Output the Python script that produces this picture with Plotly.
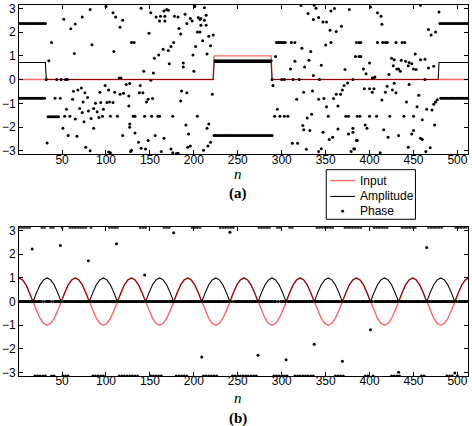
import plotly.graph_objects as go

PI = 3.1416

# ---------------- (a) ----------------
input_a_n = [1, 222, 223, 288, 289, 512]
input_a_v = [0, 0, 1, 1, 0, 0]
amp_a_n = [1, 31, 32, 33, 222, 223, 288, 289, 478, 479, 512]
amp_a_v = [0.72, 0.72, 0.05, 0, 0, 0.72, 0.72, 0, 0, 0.72, 0.72]

# dotted horizontal bands of phase: (first n, last n, step, phase)
phase_a_bands = [
    (1, 31, 2, 2.36), (2, 30, 2, -0.79),
    (223, 289, 2, -2.36), (224, 288, 2, 0.79),
    (480, 512, 2, 2.36), (481, 511, 2, -0.79),
    (34, 46, 2, -1.57),
]

# scattered phase values (n, phase)
phase_a_scatter = [
    (32, 0), (33, -2.67), (35, 0.79), (38, 1.56), (42, -0.79), (44, 0), (48, -0.79), (49, 0),
    (52, 2.54), (53, -1.55), (54, 0), (56, 0), (55, -1.25), (51, -2.05), (57, -2.36), (59, -1.55),
    (60, 2.14), (62, -0.83), (63, -0.49), (64, 1.1), (65, 2.34), (65, -1.66), (67, -2.39),
    (68, -0.44), (70, -1.22), (72, -0.35), (73, 2.64), (73, -1.39), (74, -0.94), (75, -1.78),
    (76, -0.55), (77, -2.85), (79, -0.76), (80, -1.32), (82, 2.95), (82, -3.0), (83, -1.64),
    (84, 1.47), (86, -1.22), (86, -2.05), (88, -1.0), (90, -1.36), (92, -1.6), (93, -0.53),
    (94, -0.97), (96, -1.55), (97, -1.25), (99, -0.25), (100, 3.08), (101, -0.97), (103, -0.44),
    (104, -0.94), (103, -3.05), (105, -1.55), (105, -3.08), (108, -0.97), (108, 2.81), (109, 1.18),
    (110, -0.53), (111, 2.64), (113, -1.55), (115, 0.07), (116, 2.2), (116, -0.62), (117, 0.07),
    (119, 2.5), (119, -2.36), (120, -0.58), (123, -0.21), (126, -0.69), (127, -1.87), (129, 1.56),
    (129, -2.98),
    (140, 3.0), (151, 2.81), (157, 2.64), (162, 2.67), (167, 2.67), (166, 2.89), (169, 2.95),
    (171, 2.92), (161, 2.47), (167, 2.47), (178, 2.67), (182, 2.64), (190, 2.75), (196, 2.57),
    (198, 2.47), (192, 2.36), (201, 3.08), (212, 3.03), (205, 2.61), (207, 2.53), (208, 2.57),
    (214, 2.71), (212, 2.5), (208, 2.29), (214, 2.29), (183, 2.15), (185, 1.92), (204, 2.0),
    (207, 2.0), (217, 1.83), (222, 1.88), (149, 1.95), (132, 1.56), (177, 1.56), (174, 1.39),
    (165, 1.28), (171, 1.22), (210, 1.64), (219, 1.42), (202, 1.39), (160, 1.04), (155, 0.9),
    (199, 1.04), (215, 1.08), (172, 0.67), (188, 0.7), (188, 0.53), (143, 0.35), (154, 0.28),
    (200, 0.35), (151, -0.03), (127, -0.17), (139, -0.25), (138, -0.55), (142, -0.55),
    (186, -0.48), (192, -0.55), (221, -0.62), (148, -0.83), (153, -0.8), (146, -0.94),
    (185, -0.9), (126, -1.11), (131, -1.55), (133, -1.55), (144, -1.55), (152, -1.55),
    (159, -1.55), (161, -1.55), (176, -1.55), (204, -1.55), (127, -2.01), (191, -1.91),
    (194, -2.29), (217, -1.87), (215, -2.05), (133, -2.25), (156, -2.36), (166, -2.47),
    (148, -2.57), (137, -2.64), (140, -2.89), (145, -2.92), (128, -3.03), (163, -3.03),
    (174, -2.92), (176, -3.08), (180, -3.12), (181, -3.12), (182, -3.1), (193, -2.85),
    (196, -2.8), (211, -2.98), (216, -2.8), (219, -2.64),
    (289, 0), (290, -0.25), (293, 0.97), (292, -1.55), (294, 1.56), (296, 1.56), (298, 1.56),
    (300, 1.56), (302, 1.56), (304, 1.56), (295, -1.25), (298, -1.55), (300, 0), (303, 0),
    (303, -1.55), (307, -1.55), (310, 0.45), (311, 1.56), (312, -2.68), (313, 0), (315, 0.77),
    (315, 1.56), (317, -0.83), (318, -2.68), (320, 0), (322, 3.13), (323, 1.32), (324, -1.94),
    (325, -2.11), (325, -0.53), (326, 0.53), (328, -2.94), (329, -1.62), (330, 2.78), (331, 0.81),
    (332, -2.15), (333, 1.18), (334, -1.46), (335, -0.48), (336, 2.53), (336, 0.17), (337, 3.13),
    (339, 3.0), (342, 2.61), (342, -0.83), (342, -3.03), (343, 0), (345, 0.6), (345, -2.91),
    (347, 2.43), (347, -2.22), (348, -0.8), (350, 1.46), (351, 2.43), (351, -1.14), (353, -1.55),
    (354, -2.53), (355, 2.08), (356, 2.89), (356, 1.56), (358, -2.43), (359, -0.8), (360, 2.99),
    (362, 2.02), (362, -0.62), (364, -1.11), (364, -2.08), (367, -0.62), (368, 2.25), (369, -0.44),
    (371, -0.25), (372, 0.42), (373, -1.55), (375, -0.14), (376, -1.55), (376, -2.29), (377, 2.95),
    (379, -3.03), (381, 0), (381, -2.05), (381, -2.22), (382, -2.91), (383, -2.92), (384, 0.97),
    (385, 1.56), (385, -2.57), (386, -1.55), (386, -2.57), (388, 1.56), (388, 0.97), (389, -1.55),
    (390, 1.56), (390, 0.97), (393, 0.45), (394, -0.39), (395, -1.91), (396, 0.24), (397, -2.05),
    (400, 0.7), (400, -0.39), (400, -1.55), (401, 3.06), (403, -0.53), (403, 0.07), (405, 0.07),
    (405, -0.39), (406, 0.11), (408, -1.55), (409, 2.81), (409, 1.56), (412, -3.08), (413, 2.67),
    (414, 2.33), (414, -0.86), (415, 1.56), (416, -2.11), (418, 1.56), (418, -0.53), (420, 1.56),
    (420, -0.28), (421, -2.43), (422, 0.21), (423, -1.55), (425, 0.9), (426, -0.44), (427, 0.58),
    (428, 0.83), (428, -0.16), (430, 1.56), (430, -0.55), (431, 0.45), (433, 0.45), (433, -2.36),
    (435, 0.35), (436, 0.81), (437, 1.56), (439, -1.55), (440, 1.56), (441, 0.77), (442, -0.94),
    (444, 0.58), (444, -2.85), (445, 0.72), (445, -0.21), (448, 0.67), (448, -2.29), (450, 0.45),
    (450, -1.55), (450, -2.15), (452, 1.08), (453, 0.42), (454, -1.14), (456, -0.66), (458, 3.13),
    (458, 0.84), (458, -2.47), (460, -1.69), (460, -2.53), (463, 0.86), (463, 0), (464, -3.03),
    (465, -1.25), (467, 2.11), (467, 0.49), (469, -2.87), (470, 1.88), (471, -1.28), (473, 0.56),
    (473, -1.04), (474, -1.91), (475, 2.0), (475, -0.94), (477, -0.85), (479, 2.85),
]

# ---------------- (b) ----------------
input_b_n = list(range(1, 514, 4))
input_b_v = [
    1, 0.92, 0.71, 0.38, 0, -0.38, -0.71, -0.92, -1, -0.92, -0.71, -0.38, 0, 0.38, 0.71, 0.92,
    1, 0.92, 0.71, 0.38, 0, -0.38, -0.71, -0.92, -1, -0.92, -0.71, -0.38, 0, 0.38, 0.71, 0.92,
    1, 0.92, 0.71, 0.38, 0, -0.38, -0.71, -0.92, -1, -0.92, -0.71, -0.38, 0, 0.38, 0.71, 0.92,
    1, 0.92, 0.71, 0.38, 0, -0.38, -0.71, -0.92, -1, -0.92, -0.71, -0.38, 0, 0.38, 0.71, 0.92,
    1, 0.92, 0.71, 0.38, 0, -0.38, -0.71, -0.92, -1, -0.92, -0.71, -0.38, 0, 0.38, 0.71, 0.92,
    1, 0.92, 0.71, 0.38, 0, -0.38, -0.71, -0.92, -1, -0.92, -0.71, -0.38, 0, 0.38, 0.71, 0.92,
    1, 0.92, 0.71, 0.38, 0, -0.38, -0.71, -0.92, -1, -0.92, -0.71, -0.38, 0, 0.38, 0.71, 0.92,
    1, 0.92, 0.71, 0.38, 0, -0.38, -0.71, -0.92, -1, -0.92, -0.71, -0.38, 0, 0.38, 0.71, 0.92,
    1,
]
amp_b_v = [
    1, 0.92, 0.71, 0.38, 0, 0.38, 0.71, 0.92, 1, 0.92, 0.71, 0.38, 0, 0.38, 0.71, 0.92,
    1, 0.92, 0.71, 0.38, 0, 0.38, 0.71, 0.92, 1, 0.92, 0.71, 0.38, 0, 0.38, 0.71, 0.92,
    1, 0.92, 0.71, 0.38, 0, 0.38, 0.71, 0.92, 1, 0.92, 0.71, 0.38, 0, 0.38, 0.71, 0.92,
    1, 0.92, 0.71, 0.38, 0, 0.38, 0.71, 0.92, 1, 0.92, 0.71, 0.38, 0, 0.38, 0.71, 0.92,
    1, 0.92, 0.71, 0.38, 0, 0.38, 0.71, 0.92, 1, 0.92, 0.71, 0.38, 0, 0.38, 0.71, 0.92,
    1, 0.92, 0.71, 0.38, 0, 0.38, 0.71, 0.92, 1, 0.92, 0.71, 0.38, 0, 0.38, 0.71, 0.92,
    1, 0.92, 0.71, 0.38, 0, 0.38, 0.71, 0.92, 1, 0.92, 0.71, 0.38, 0, 0.38, 0.71, 0.92,
    1, 0.92, 0.71, 0.38, 0, 0.38, 0.71, 0.92, 1, 0.92, 0.71, 0.38, 0, 0.38, 0.71, 0.92,
    1,
]
# n-ranges where phase sits at +pi / -pi (dotted runs), rest at 0
phase_b_top_runs = [(1, 20), (27, 32), (37, 41), (50, 50), (59, 83), (97, 97), (104, 113),
                    (136, 146), (157, 173), (198, 208), (230, 247), (256, 263), (274, 287),
                    (295, 298), (306, 325), (327, 327), (340, 359), (372, 392), (405, 421),
                    (434, 454), (467, 484), (498, 512)]
phase_b_bottom_runs = [(18, 31), (37, 41), (50, 57), (84, 97), (114, 136), (150, 163),
                       (176, 194), (210, 228), (243, 272), (290, 306), (314, 338), (360, 370),
                       (394, 404), (424, 434), (458, 467), (487, 500)]
phase_b_outliers = [(16, 2.22), (48, 2.37), (80, 1.73), (112, 2.44), (144, 1.12), (177, 2.91),
                    (209, -2.34), (241, 2.93), (273, -2.27), (305, -2.45), (337, -1.8),
                    (369, -2.52), (401, -1.19), (433, -2.98), (465, 2.29), (497, -3.01)]

legend_labels = ["Input", "Amplitude", "Phase"]

# ---------- build point lists ----------
pa_n, pa_v = [], []
for s, e, st, val in phase_a_bands:
    for n in range(s, e + 1, st):
        pa_n.append(n)
        pa_v.append(val)
for n, val in phase_a_scatter:
    pa_n.append(n)
    pa_v.append(val)

phase_b = {n: 0.0 for n in range(1, 513)}
for s, e in phase_b_top_runs:
    for n in range(s, e + 1, 3):
        phase_b[n] = PI - 0.005
for s, e in phase_b_bottom_runs:
    for n in range(s + 1, e + 1, 3):
        phase_b[n] = -PI + 0.005
for n, val in phase_b_outliers:
    phase_b[n] = val
pb_n = list(phase_b.keys())
pb_v = list(phase_b.values())

RED = "rgba(255,0,0,0.6)"
MS = 3.0

fig = go.Figure()
# (a)
fig.add_trace(go.Scatter(x=amp_a_n, y=amp_a_v, mode="lines", name="Amplitude",
                         line=dict(color="black", width=1.1), showlegend=False,
                         xaxis="x", yaxis="y"))
fig.add_trace(go.Scatter(x=input_a_n, y=input_a_v, mode="lines", name="Input",
                         line=dict(color=RED, width=1.4), showlegend=False,
                         xaxis="x", yaxis="y"))
fig.add_trace(go.Scatter(x=pa_n, y=pa_v, mode="markers", name="Phase",
                         marker=dict(color="black", size=MS), showlegend=False,
                         xaxis="x", yaxis="y"))
# (b)
fig.add_trace(go.Scatter(x=input_b_n, y=amp_b_v, mode="lines", name="Amplitude",
                         line=dict(color="black", width=1.1), showlegend=False,
                         xaxis="x2", yaxis="y2"))
fig.add_trace(go.Scatter(x=input_b_n, y=input_b_v, mode="lines", name="Input",
                         line=dict(color=RED, width=1.4), showlegend=False,
                         xaxis="x2", yaxis="y2"))
fig.add_trace(go.Scatter(x=pb_n, y=pb_v, mode="markers", name="Phase",
                         marker=dict(color="black", size=MS), showlegend=False,
                         xaxis="x2", yaxis="y2"))

axis_common = dict(showline=True, mirror="ticks", linecolor="black", linewidth=1,
                   ticks="inside", ticklen=4, tickcolor="black", showgrid=False,
                   zeroline=False, tickfont=dict(family="Liberation Sans", size=12, color="black"))
xticks = [50, 100, 150, 200, 250, 300, 350, 400, 450, 500]
yticks = [-3, -2, -1, 0, 1, 2, 3]

W, H = 472, 426
ML, MR, MT, MB = 15, 4, 2, 50
PW, PH = W - ML - MR, H - MT - MB


def px(xp):
    return (xp - ML) / PW


def py(yp):
    return 1 - (yp - MT) / PH


fig.update_layout(
    width=W, height=H,
    margin=dict(l=ML, r=MR, t=MT, b=MB),
    plot_bgcolor="white", paper_bgcolor="white",
    xaxis=dict(domain=[0, 1], range=[1, 512], tickvals=xticks, anchor="y",
               ticklabelstandoff=-6, **axis_common),
    yaxis=dict(domain=[0.598, 1], range=[-PI, PI], tickvals=yticks, anchor="x", **axis_common),
    xaxis2=dict(domain=[0, 1], range=[1, 512], tickvals=xticks, anchor="y2",
                ticklabelstandoff=-6, **axis_common),
    yaxis2=dict(domain=[0, 0.401], range=[-PI, PI], tickvals=yticks, anchor="x2", **axis_common),
    showlegend=False,
)

# axis labels
for txt, yp in [("<i>n</i>", 172), ("<b>(a)</b>", 192), ("<i>n</i>", 398), ("<b>(b)</b>", 419)]:
    fig.add_annotation(text=txt, x=px(236), y=py(yp), xref="paper", yref="paper",
                       xanchor="center", yanchor="middle", showarrow=False,
                       font=dict(family="Liberation Serif", size=15, color="black"))

# legend box (drawn like the MATLAB legend)
fig.add_shape(type="rect", xref="paper", yref="paper", x0=px(325), x1=px(415),
              y0=py(218), y1=py(168), line=dict(color="black", width=1), fillcolor="white")
rows = [179, 195, 210]
fig.add_shape(type="line", xref="paper", yref="paper", x0=px(329), x1=px(354),
              y0=py(rows[0]), y1=py(rows[0]), line=dict(color=RED, width=1.4))
fig.add_shape(type="line", xref="paper", yref="paper", x0=px(329), x1=px(354),
              y0=py(rows[1]), y1=py(rows[1]), line=dict(color="black", width=1.1))
fig.add_shape(type="circle", xref="paper", yref="paper", x0=px(340), x1=px(343),
              y0=py(rows[2] + 1.5), y1=py(rows[2] - 1.5), line=dict(color="black", width=0),
              fillcolor="black")
for lbl, yp in zip(legend_labels, rows):
    fig.add_annotation(text=lbl, x=px(357), y=py(yp), xref="paper", yref="paper",
                       xanchor="left", yanchor="middle", showarrow=False,
                       font=dict(family="Liberation Sans", size=12, color="black"))

fig.write_html("out.html", config={"displayModeBar": False},
               post_script="document.body.style.margin='0';document.body.style.overflow='hidden';")
